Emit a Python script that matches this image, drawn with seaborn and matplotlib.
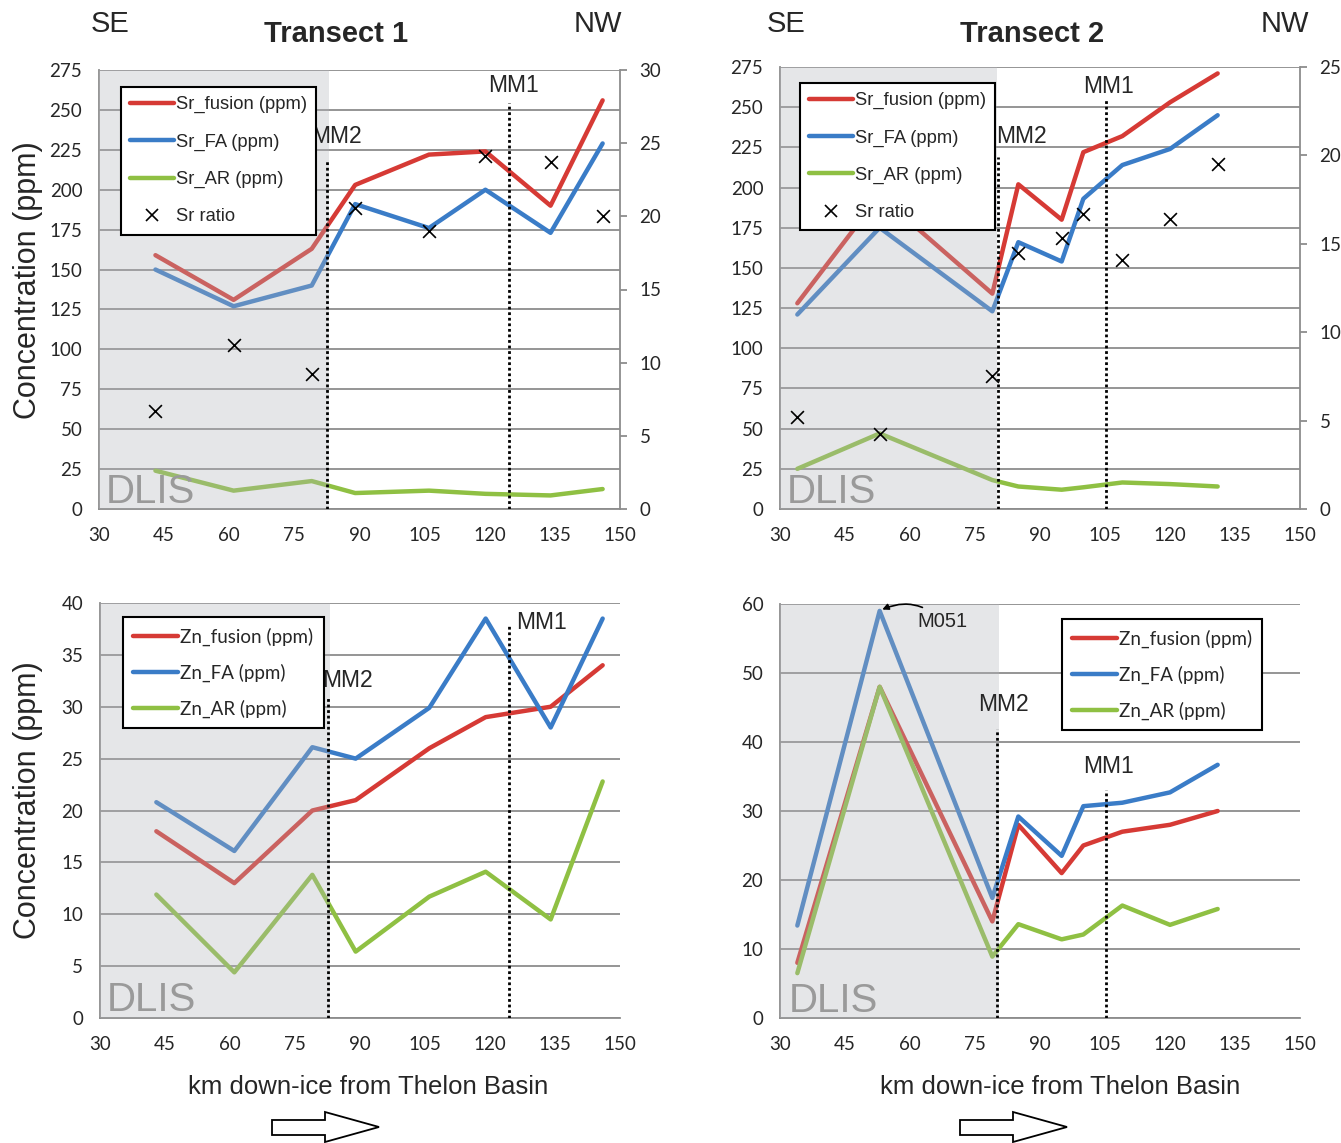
import numpy as np
import pandas as pd
import matplotlib
matplotlib.use("Agg")
import matplotlib.pyplot as plt
from matplotlib.lines import Line2D
from matplotlib.patches import Polygon
import seaborn as sns

# ---------------- data ----------------
t1_km = [43, 61, 79, 89, 106, 119, 134, 146]
t2_km = [34, 53, 79, 85, 95, 100, 109, 120, 131]

sr_fusion_t1 = [159, 131, 163, 203, 222, 224, 190, 256]
sr_fa_t1 = [150, 127, 140, 191, 176, 200, 173, 229]
sr_ar_t1 = [24, 11.5, 17.5, 10, 11.5, 9.5, 8.5, 12.5]
sr_ratio_t1 = [6.7, 11.2, 9.2, 20.6, 19.0, 24.1, 23.7, 20.0]

sr_fusion_t2 = [128, 195, 134, 202, 180, 222, 232, 253, 271]
sr_fa_t2 = [121, 175, 123, 166, 154, 193, 214, 224, 245]
sr_ar_t2 = [25, 47, 18, 14, 12, 13.5, 16.5, 15.5, 14]
sr_ratio_t2 = [5.2, 4.25, 7.5, 14.5, 15.3, 16.7, 14.1, 16.4, 19.5]

zn_fusion_t1 = [18, 13, 20, 21, 26, 29, 30, 34]
zn_fa_t1 = [20.8, 16.1, 26.1, 25.0, 29.9, 38.5, 28.0, 38.5]
zn_ar_t1 = [11.9, 4.4, 13.8, 6.4, 11.7, 14.1, 9.5, 22.8]

zn_fusion_t2 = [8, 48, 14, 28, 21, 25, 27, 28, 30]
zn_fa_t2 = [13.4, 59, 17.4, 29.2, 23.5, 30.7, 31.2, 32.7, 36.7]
zn_ar_t2 = [6.5, 48, 8.9, 13.6, 11.4, 12.1, 16.3, 13.5, 15.8]

x_ticks = list(range(30, 151, 15))

RED, BLUE, GREEN = "#d63a35", "#3a7cc7", "#8fc043"
GRID = "#8c8c8c"
TICK_SIZE = 13.5

sns.set_style("white")
plt.rcParams["font.family"] = ["Liberation Sans", "DejaVu Sans"]

W, H = 1341, 1143
fig = plt.figure(figsize=(W / 100, H / 100), dpi=100)


def px_axes(left, top, right, bottom):
    return fig.add_axes([left / W, 1 - bottom / H, (right - left) / W, (bottom - top) / H])


def long_frame(km, series):
    rows = []
    for name, vals in series.items():
        for k, v in zip(km, vals):
            rows.append({"km": k, "ppm": v, "series": name})
    return pd.DataFrame(rows)


def style_axes(ax, ymax, ystep):
    ax.set_xlim(30, 150)
    ax.set_ylim(0, ymax)
    ax.set_xticks(x_ticks)
    ax.set_yticks(np.arange(0, ymax + 0.01, ystep))
    ax.set_axisbelow(True)
    ax.yaxis.grid(True, color=GRID, lw=1.3, zorder=0.5)
    ax.xaxis.grid(False)
    for s in ("top", "right"):
        ax.spines[s].set_visible(False)
    for s in ("left", "bottom"):
        ax.spines[s].set_color(GRID)
        ax.spines[s].set_linewidth(1.3)
    ax.tick_params(axis="x", length=0, pad=13, labelsize=TICK_SIZE, labelfontfamily="Lato")
    ax.tick_params(axis="y", length=0, pad=12, labelsize=TICK_SIZE, labelfontfamily="Lato")
    ax.set_xlabel("")
    ax.set_ylabel("")


def decorate(ax, shade_end, mm2, mm1, mm2_top, mm1_top, mm2_txt, mm1_txt, dlis_xy):
    ax.axvspan(30, shade_end, color=(0.70, 0.71, 0.73), alpha=0.33, lw=0, zorder=3)
    ax.plot([mm2, mm2], [0, mm2_top], color="black", lw=2, ls=(0, (1, 1)), zorder=4)
    ax.plot([mm1, mm1], [0, mm1_top], color="black", lw=2, ls=(0, (1, 1)), zorder=4)
    ax.text(*mm2_txt, "MM2", fontsize=16.5, ha="center", va="center", zorder=6)
    ax.text(*mm1_txt, "MM1", fontsize=16.5, ha="center", va="center", zorder=6)
    ax.text(*dlis_xy, "DLIS", fontsize=29, color="#9a9a9a", ha="left", va="center", zorder=6)


palette_sr = {"Sr_fusion (ppm)": RED, "Sr_FA (ppm)": BLUE, "Sr_AR (ppm)": GREEN}
palette_zn = {"Zn_fusion (ppm)": RED, "Zn_FA (ppm)": BLUE, "Zn_AR (ppm)": GREEN}


def sr_panel(ax, km, fusion, fa, ar, ratio, rmax, legend_xy):
    df = long_frame(km, {"Sr_fusion (ppm)": fusion, "Sr_FA (ppm)": fa, "Sr_AR (ppm)": ar})
    sns.lineplot(data=df, x="km", y="ppm", hue="series", palette=palette_sr,
                 linewidth=3.2, sort=False, estimator=None, legend=False, ax=ax)
    style_axes(ax, 275, 25)
    ax2 = ax.twinx()
    sns.scatterplot(x=km, y=ratio, marker="x", color="black", s=85, linewidth=1.2, ax=ax2, zorder=5)
    ax2.set_ylim(0, rmax)
    ax2.set_yticks(np.arange(0, rmax + 0.01, 5))
    for s in ("top", "left", "bottom"):
        ax2.spines[s].set_visible(False)
    ax2.spines["right"].set_color(GRID)
    ax2.spines["right"].set_linewidth(1.3)
    ax2.tick_params(axis="y", length=5, width=1.3, color=GRID, pad=9,
                    labelsize=TICK_SIZE, labelfontfamily="Lato")
    handles = [Line2D([], [], color=c, lw=3.2) for c in palette_sr.values()]
    handles.append(Line2D([], [], color="black", marker="x", ls="none", markersize=9, mew=1.2))
    labels = list(palette_sr.keys()) + ["Sr ratio"]
    leg = ax2.legend(handles, labels, loc="upper left", bbox_to_anchor=legend_xy,
                     borderaxespad=0, fontsize=13.2, frameon=True, fancybox=False,
                     edgecolor="black", framealpha=1, labelspacing=1.1,
                     handlelength=2.4, handletextpad=0.1, borderpad=0.5)
    leg.get_frame().set_linewidth(1.5)
    leg.set_zorder(10)
    return ax2


def zn_panel(ax, km, fusion, fa, ar, ymax, ystep, legend_xy):
    df = long_frame(km, {"Zn_fusion (ppm)": fusion, "Zn_FA (ppm)": fa, "Zn_AR (ppm)": ar})
    sns.lineplot(data=df, x="km", y="ppm", hue="series", palette=palette_zn,
                 linewidth=3.2, sort=False, estimator=None, legend=False, ax=ax)
    style_axes(ax, ymax, ystep)
    handles = [Line2D([], [], color=c, lw=3.2) for c in palette_zn.values()]
    leg = ax.legend(handles, list(palette_zn.keys()), loc="upper left", bbox_to_anchor=legend_xy,
                    borderaxespad=0, prop={"family": "Lato", "size": 13.5}, frameon=True,
                    fancybox=False, edgecolor="black", framealpha=1, labelspacing=0.95,
                    handlelength=2.4, handletextpad=0.1, borderpad=0.55)
    leg.get_frame().set_linewidth(1.5)
    leg.set_zorder(10)


# Transect 1, Sr
ax_a = px_axes(99, 70, 620, 509)
sr_panel(ax_a, t1_km, sr_fusion_t1, sr_fa_t1, sr_ar_t1, sr_ratio_t1, 30, (0.042, 0.961))
decorate(ax_a, 83, 82.6, 124.4, 219, 254.5, (84.8, 233.5), (125.4, 265), (31.6, 10.6))

# Transect 2, Sr
ax_b = px_axes(780, 67, 1300, 509)
sr_panel(ax_b, t2_km, sr_fusion_t2, sr_fa_t2, sr_ar_t2, sr_ratio_t2, 25, (0.0385, 0.964))
decorate(ax_b, 80, 80.2, 105.3, 219, 255, (85.8, 231.5), (105.7, 263), (31.6, 10.6))

# Transect 1, Zn
ax_c = px_axes(100, 603, 620, 1018)
zn_panel(ax_c, t1_km, zn_fusion_t1, zn_fa_t1, zn_ar_t1, 40, 5, (0.044, 0.966))
decorate(ax_c, 83, 82.5, 124.3, 31, 37.8, (87, 32.5), (131.8, 38.1), (31.6, 1.7))

# Transect 2, Zn
ax_d = px_axes(780, 604, 1300, 1018)
zn_panel(ax_d, t2_km, zn_fusion_t2, zn_fa_t2, zn_ar_t2, 60, 10, (0.542, 0.964))
decorate(ax_d, 80.5, 80.1, 105.3, 41.9, 33.1, (81.5, 45.5), (105.7, 36.5), (32.0, 2.5))
ax_d.annotate("M051", xy=(t2_km[1] + 0.6, zn_fa_t2[1] + 0.2), xytext=(61.8, 57.4),
              fontsize=14.5, ha="left", va="center", zorder=7,
              arrowprops=dict(arrowstyle="-|>", connectionstyle="arc3,rad=0.35",
                              color="black", lw=1.2, mutation_scale=9,
                              shrinkA=3, shrinkB=0))


def ftext(x, y, s, **kw):
    fig.text(x / W, 1 - y / H, s, ha="center", va="center", **kw)


ftext(110, 24, "SE", fontsize=21)
ftext(598, 24, "NW", fontsize=21)
ftext(786, 24, "SE", fontsize=21)
ftext(1285, 24, "NW", fontsize=21)
ftext(336, 34, "Transect 1", fontsize=21, fontweight="bold")
ftext(1032, 34, "Transect 2", fontsize=21, fontweight="bold")

ftext(28, 280, "Concentration (ppm)", fontsize=22, rotation=90)
ftext(28, 800, "Concentration (ppm)", fontsize=22, rotation=90)

ftext(368, 1087, "km down-ice from Thelon Basin", fontsize=18.5)
ftext(1060, 1087, "km down-ice from Thelon Basin", fontsize=18.5)

# outlined direction arrows
arrow_px = [(272, 1120), (325, 1120), (325, 1112), (379, 1127),
            (325, 1142), (325, 1135), (272, 1135)]
for dx in (0, 688):
    pts = [((x + dx) / W, 1 - y / H) for x, y in arrow_px]
    fig.patches.append(Polygon(pts, closed=True, facecolor="white", edgecolor="black",
                               lw=1.3, transform=fig.transFigure, figure=fig))

fig.savefig("out.png", dpi=100)
